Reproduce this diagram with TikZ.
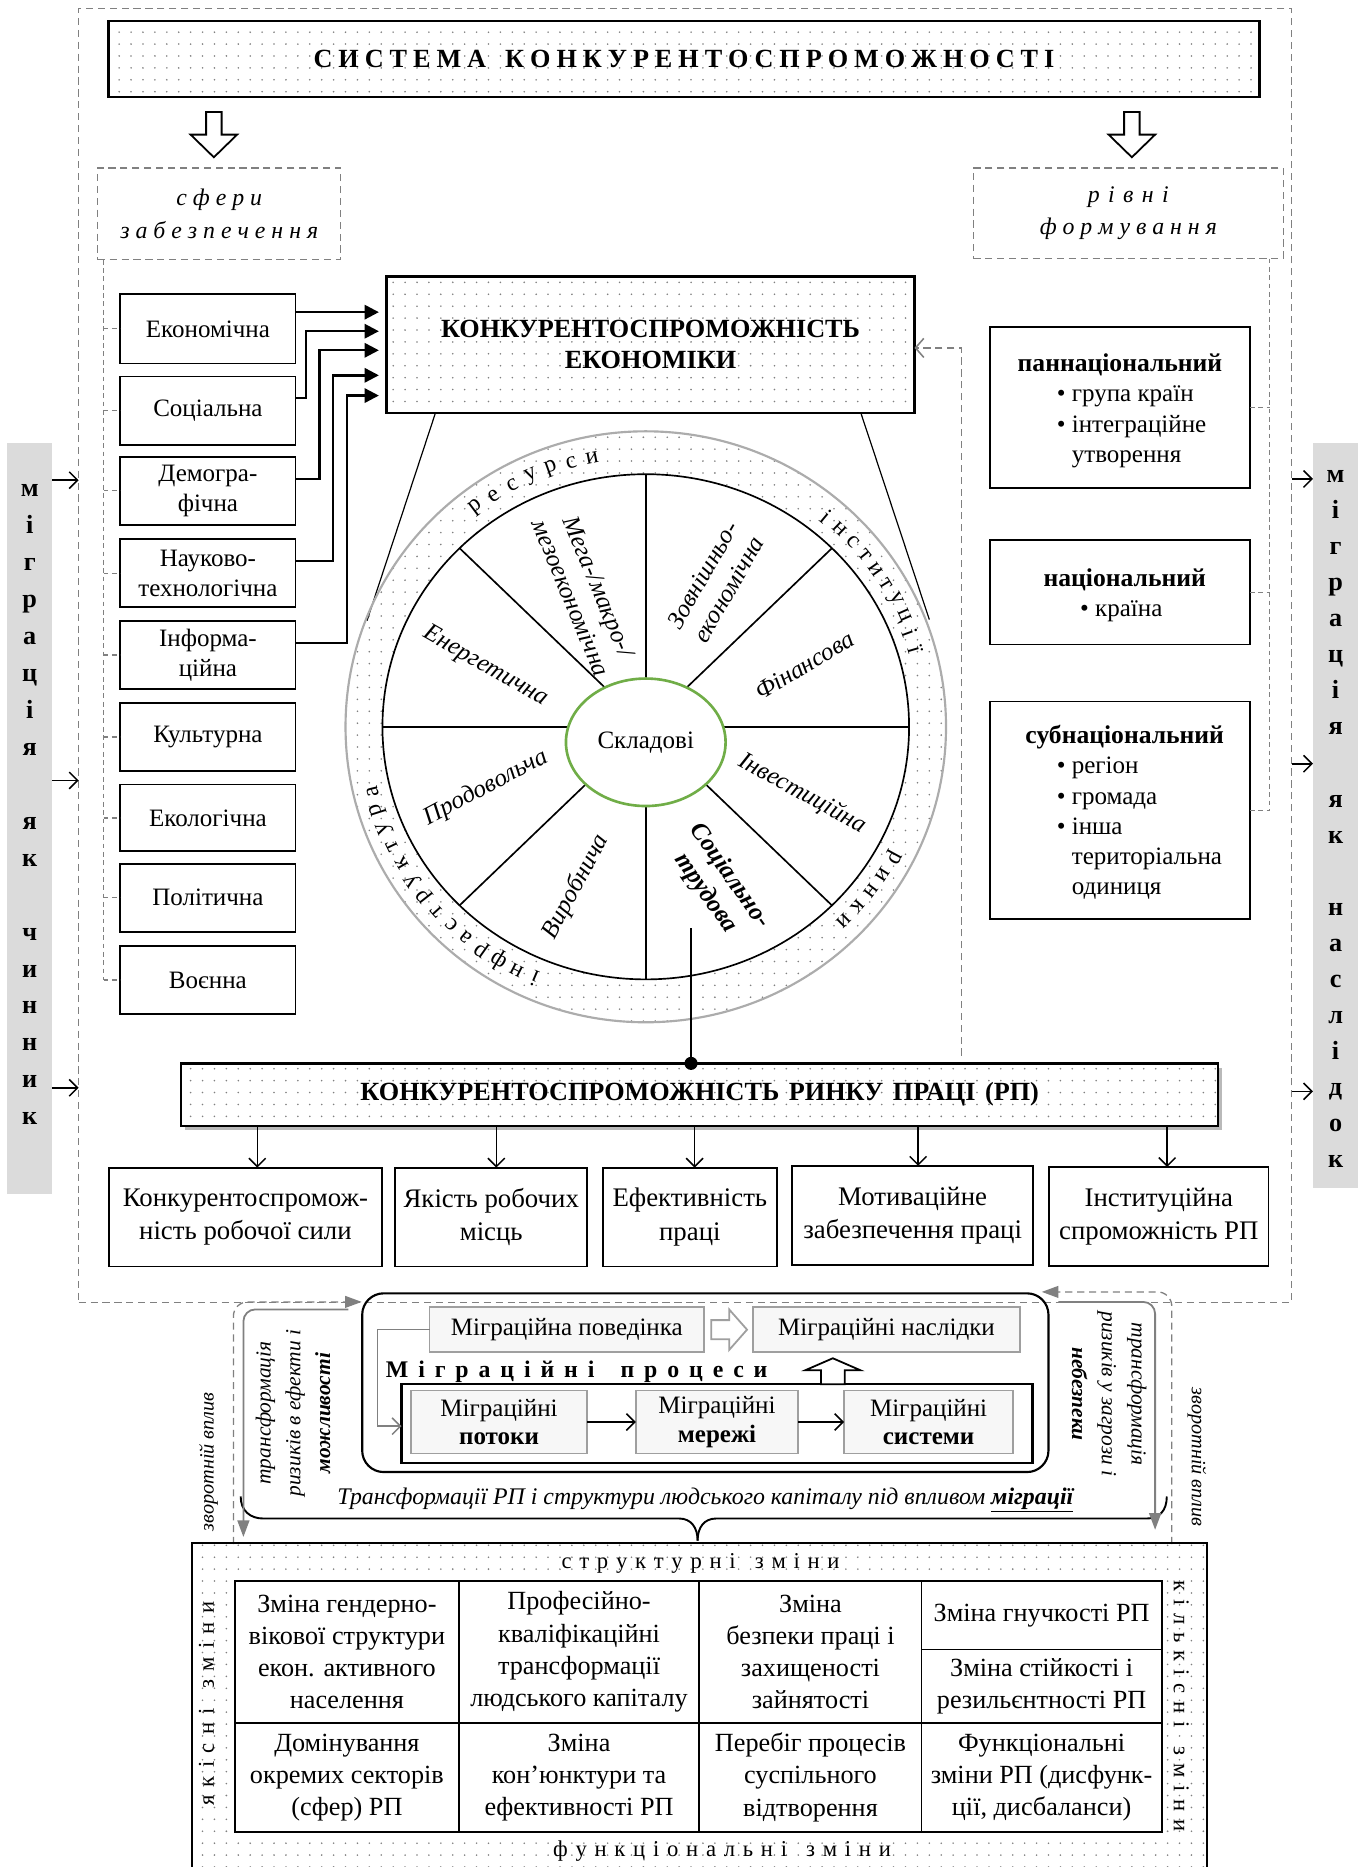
\documentclass[tikz,border=0pt]{standalone}
\usepackage{fontspec}
\setmainfont{Liberation Serif}
\usetikzlibrary{arrows.meta,patterns.meta,calc,shapes.geometric}
\definecolor{grn}{RGB}{112,173,71}
\definecolor{dgray}{RGB}{128,128,128}
\begin{document}
\begin{tikzpicture}[x=1pt,y=-1pt,
  every node/.style={inner sep=0pt,outer sep=0pt},
  ft/.style={font=\fontsize{21}{26}\selectfont},
  box/.style={draw,line width=1.5pt,fill=white,align=center,ft},
  cell/.style={box,font=\fontsize{22}{27}\selectfont},
  lbox/.style={box,font=\fontsize{22.5}{28}\selectfont},
  dotarea/.style={pattern={Dots[distance=10pt,radius=0.75pt]},pattern color=black!50},
  gdash/.style={draw=dgray,dash pattern=on 6pt off 4pt,line width=1.1pt},
  gdashs/.style={draw=dgray,dash pattern=on 4pt off 3pt,line width=1pt},
  fat/.style={line width=2pt,-{Triangle[length=12pt,width=12pt]}},
  barb/.style={line width=1.3pt,-{Straight Barb[length=7pt,width=14pt,line width=1.3pt]}},
  gbarb/.style={draw=dgray,line width=1.3pt,-{Straight Barb[length=7pt,width=14pt,line width=1.3pt]}},
  gtri/.style={draw=dgray,line width=1.5pt,-{Triangle[length=14pt,width=10pt]}},
  vbar/.style={fill=gray!28,minimum width=38pt},
  vletter/.style={font=\fontsize{22}{22}\selectfont\bfseries,anchor=base},
  ringtxt/.style={font=\fontsize{20}{20}\selectfont},
  sect/.style={font=\fontsize{21}{25}\selectfont\itshape,align=center},
  mbox/.style={draw=gray!75,line width=1.5pt,fill=gray!6,align=center,font=\fontsize{21}{25}\selectfont},
]
\useasboundingbox (0,0) rectangle (1150,1567);
\fill[white] (0,0) rectangle (1150,1567);

% outer dashed frame
\node[gdash,minimum width=1018pt,minimum height=1086pt] (outer) at (575,550) {};

% title
\node[draw,line width=2pt,dotarea,minimum width=966pt,minimum height=64pt,font=\fontsize{22}{26}\selectfont\bfseries] (title) at (574,49.5)
  {\spaceskip=5pt С И С Т Е М А\hspace{16pt}К О Н К У Р Е Н Т О С П Р О М О Ж Н О С Т І};

% hollow down arrows
\draw[line width=1.5pt,fill=white] (173,94) -- (186,94) -- (186,113) -- (199,113) -- (179.5,132) -- (160,113) -- (173,113) -- cycle;
\draw[line width=1.5pt,fill=white] (943.5,94) -- (956.5,94) -- (956.5,113) -- (969.5,113) -- (950,132) -- (930.5,113) -- (943.5,113) -- cycle;

% dashed headers
\node[gdash,minimum width=204pt,minimum height=77pt,align=center,font=\fontsize{20}{27}\selectfont\itshape] (sfery) at (184,179.5)
  {\spaceskip=5pt с ф е р и\\з а б е з п е ч е н н я};
\node[gdash,minimum width=260pt,minimum height=76pt,align=center,font=\fontsize{20}{27}\selectfont\itshape] (rivni) at (947,179)
  {\spaceskip=7pt р і в н і\\ф о р м у в а н н я};

% left boxes
\node[box,minimum width=147pt,minimum height=58pt] (eco) at (174.5,276) {Економічна};
\node[box,minimum width=147pt,minimum height=57.5pt] (soc) at (174.5,344.75) {Соціальна};
\node[box,minimum width=147pt,minimum height=57pt,font=\fontsize{21}{25}\selectfont] (dem) at (174.5,412) {Демогра-\\фічна};
\node[box,minimum width=147pt,minimum height=57pt,font=\fontsize{21}{25}\selectfont] (nau) at (174.5,481) {Науково-\\технологічна};
\node[box,minimum width=147pt,minimum height=57.5pt,font=\fontsize{21}{25}\selectfont] (inf) at (174.5,549.75) {Інформа-\\ційна};
\node[box,minimum width=147pt,minimum height=57pt] (kul) at (174.5,618.5) {Культурна};
\node[box,minimum width=147pt,minimum height=56pt] (ekol) at (174.5,686.5) {Екологічна};
\node[box,minimum width=147pt,minimum height=57pt] (pol) at (174.5,753.5) {Політична};
\node[box,minimum width=147pt,minimum height=57pt] (voen) at (174.5,822.5) {Воєнна};

\coordinate (lbt) at (87,218);
\coordinate (lbb) at (87,822.5);
\draw[gdashs] (lbt) -- (lbb);
\foreach \n in {eco,soc,dem,nau,inf,kul,ekol,pol,voen} \draw[gdashs] (\n.west -| lbt) -- (\n.west);

% KE box
\node[draw,line width=2pt,dotarea,minimum width=443pt,minimum height=114.5pt,align=center,font=\fontsize{22}{26}\selectfont\bfseries] (ke) at (546,289.25)
  {КОНКУРЕНТОСПРОМОЖНІСТЬ\\ЕКОНОМІКИ};

\coordinate (t1) at (318,262);
\coordinate (t2) at (318,278);
\coordinate (t3) at (318,294);
\coordinate (t4) at (318,315);
\coordinate (t5) at (318,332);
\draw[fat] (eco.east |- t1) -- (t1);
\draw[fat] ([yshift=10.75pt]soc.east) -| (256.7,278) -- (t2);
\draw[fat] ([yshift=10pt]dem.east) -| (268,294) -- (t3);
\draw[fat] ([yshift=10pt]nau.east) -| (279.5,315) -- (t4);
\draw[fat] ([yshift=10.25pt]inf.east) -| (291,332) -- (t5);

% right boxes
\node[box,minimum width=218pt,minimum height=135pt] (pan) at (940,342) {};
\node[box,minimum width=218pt,minimum height=88pt] (nat) at (940,497) {};
\node[box,minimum width=218pt,minimum height=182.5pt] (sub) at (940,680) {};
\node[font=\fontsize{21.5}{26}\selectfont\bfseries,anchor=base] (pan0) at (940,311.7) {паннаціональний};
\node[ft,anchor=base west] (pan1) at (887,337.2) {\textbullet\ група країн};
\node[ft,anchor=base west] (pan2) at (887,362.6) {\textbullet\ інтеграційне};
\node[ft,anchor=base west] (pan3) at (899.6,388.4) {утворення};
\node[font=\fontsize{21.5}{26}\selectfont\bfseries,anchor=base] (nat0) at (944,492.2) {національний};
\node[ft,anchor=base west] (nat1) at (906.6,517.6) {\textbullet\ країна};
\node[font=\fontsize{21.5}{26}\selectfont\bfseries,anchor=base] (sub0) at (944,623.9) {субнаціональний};
\node[ft,anchor=base west] (sub1) at (887,649) {\textbullet\ регіон};
\node[ft,anchor=base west] (sub2) at (887,675) {\textbullet\ громада};
\node[ft,anchor=base west] (sub3) at (887,700.5) {\textbullet\ інша};
\node[ft,anchor=base west] (sub4) at (899.6,725.5) {територіальна};
\node[ft,anchor=base west] (sub5) at (899.6,750.5) {одиниця};

\coordinate (rbt) at (1065.5,217);
\draw[gdashs] (rbt) -- (rbt |- sub.east);
\foreach \n in {pan,nat,sub} \draw[gdashs] (\n.east) -- (\n.east -| rbt);

% vertical side bars
\node[vbar,minimum height=630pt] (lbar) at (25,687) {};
\node[vbar,minimum height=625pt] (rbar) at (1121,684.5) {};
\foreach \c [count=\i from 0] in {м,і,г,р,а,ц,і,я,{},я,к,{},ч,и,н,н,и,к}
  \node[vletter] (ll\i) at (25,417+31*\i) {\c};
\foreach \c [count=\i from 0] in {м,і,г,р,а,ц,і,я,{},я,к,{},н,а,с,л,і,д,о,к}
  \node[vletter] (rl\i) at (1121,405+30.26*\i) {\c};
\coordinate (la1) at (0,403);
\coordinate (la2) at (0,655);
\coordinate (la3) at (0,913);
\coordinate (ra1) at (0,402);
\coordinate (ra2) at (0,641);
\coordinate (ra3) at (0,916);
\foreach \k in {1,2,3} {
  \draw[barb] (lbar.east |- la\k) -- (outer.west |- la\k);
  \draw[barb] (outer.east |- ra\k) -- (rbar.west |- ra\k);
}

% lines from KE to wheel
\coordinate (cl) at (308,521);
\coordinate (cr) at (780,520);
\draw[line width=1pt] ($(ke.south west)+(41,0)$) -- (cl);
\draw[line width=1pt] ($(ke.south east)+(-45,0)$) -- (cr);

% gray dashed feedback to KE
\coordinate (gdc) at (807,292);
\coordinate (gds) at (807,886);
\draw[gdash,-{Straight Barb[length=7pt,width=16pt,line width=1.3pt]}] (gds) |- (ke.east |- gdc);

% wheel
\begin{scope}[shift={(542,610)},y=1pt]
  \draw[draw=gray!65,line width=1.8pt,dotarea] (0,0) ellipse [x radius=252,y radius=248];
  \draw[line width=1.4pt,fill=white] (0,0) ellipse [x radius=221,y radius=212];
  \foreach \a in {0,45,...,315} \draw[line width=1.4pt] (0,0) -- (\a:221 and 212);
  \node[ellipse,draw=grn,line width=2.2pt,fill=white,minimum width=134pt,minimum height=107pt,ft] (sklad) at (0,-13) {Складові};
  \foreach \c [count=\i from 0] in {р,е,с,у,р,с,и} {
    \pgfmathsetmacro\ang{127-4.33*\i}
    \pgfmathsetmacro\rot{\ang-90}
    \node[ringtxt,rotate=\rot] (rgA\i) at (\ang:236 and 230) {\c};
  }
  \foreach \c [count=\i from 0] in {і,н,с,т,и,т,у,ц,і,ї} {
    \pgfmathsetmacro\ang{50-3.733*\i}
    \pgfmathsetmacro\rot{\ang-90}
    \node[ringtxt,rotate=\rot] (rgB\i) at (\ang:236 and 230) {\c};
  }
  \foreach \c [count=\i from 0] in {р,и,н,к,и} {
    \pgfmathsetmacro\ang{-28.5-4.175*\i}
    \pgfmathsetmacro\rot{\ang-90}
    \node[ringtxt,rotate=\rot] (rgC\i) at (\ang:236 and 230) {\c};
  }
  \foreach \c [count=\i from 0] in {і,н,ф,р,а,с,т,р,у,к,т,у,р,а} {
    \pgfmathsetmacro\ang{246.7-4.085*\i}
    \pgfmathsetmacro\rot{\ang-90}
    \node[ringtxt,rotate=\rot] (rgD\i) at (\ang:236 and 230) {\c};
  }
\end{scope}

% sector labels
\node[sect,rotate=-67.5] (s1) at (491,497) {Мега-/макро-/\\мезоекономічна};
\node[sect,rotate=60] (s2) at (600.6,488.5) {Зовнішньо-\\економічна};
\node[sect,rotate=31] (s3) at (675.2,558.4) {Фінансова};
\node[sect,rotate=-28.6] (s4) at (673.6,666.2) {Інвестиційна};
\node[sect,rotate=-55,font=\fontsize{21}{25}\selectfont\bfseries\itshape] (s5) at (602.3,742.5) {Соціально-\\трудова};
\node[sect,rotate=62] (s6) at (483.5,744.2) {Виробнича};
\node[sect,rotate=28] (s7) at (408.1,661.2) {Продовольча};
\node[sect,rotate=-29.7] (s8) at (407.5,559.4) {Енергетична};

% labour market box
\fill[gray!55] (155,896) rectangle (1025.5,948);
\node[draw,line width=2pt,fill=white,minimum width=870.5pt,minimum height=52.5pt] (rpbg) at (587.25,918.75) {};
\node[draw,line width=2pt,dotarea,minimum width=870.5pt,minimum height=52.5pt,font=\fontsize{22}{26}\selectfont\bfseries] (rp) at (587.25,918.75)
  {КОНКУРЕНТОСПРОМОЖНІСТЬ\hspace{8pt}РИНКУ\hspace{8pt}ПРАЦІ\hspace{8pt}(РП)};
\coordinate (st) at (580,779);
\node[circle,fill,minimum size=11pt] (dot) at (st |- rp.north) {};
\draw[line width=1.6pt] (st) -- (dot.center);

% five boxes
\node[lbox,minimum width=229.3pt,minimum height=83pt] (b1) at (206,1021.5) {Конкурентоспромож-\\ність робочої сили};
\node[lbox,minimum width=161.4pt,minimum height=83pt] (b2) at (412.3,1021.5) {Якість робочих\\місць};
\node[lbox,minimum width=146pt,minimum height=83pt] (b3) at (579,1021.5) {Ефективність\\праці};
\node[lbox,minimum width=202pt,minimum height=83.5pt] (b4) at (766,1020.25) {Мотиваційне\\забезпечення праці};
\node[lbox,minimum width=184pt,minimum height=83pt] (b5) at (972.6,1021) {Інституційна\\спроможність РП};
\foreach \n/\dx in {b1/10,b2/4.3,b3/4,b4/4.6,b5/7}
  \draw[barb] ($(\n.north |- rp.south)+(\dx,0)$) -- ($(\n.north)+(\dx,0)$);

% migration block
\node[draw,line width=1.8pt,rounded corners=18pt,minimum width=576pt,minimum height=150pt] (mig) at (592,1160.5) {};
\node[mbox,minimum width=230.5pt,minimum height=37.6pt] (mpov) at (475.75,1115.8) {Міграційна поведінка};
\node[mbox,minimum width=224pt,minimum height=37.6pt] (mnas) at (744,1115.8) {Міграційні наслідки};
\node[draw,line width=2pt,minimum width=529.7pt,minimum height=66pt] (mproc) at (601.85,1194.8) {};
\node[mbox,minimum width=147.7pt,minimum height=53pt,font=\fontsize{21}{24}\selectfont] (mp1) at (418.85,1193.5) {Міграційні\\\textbf{потоки}};
\node[mbox,minimum width=136.4pt,minimum height=53pt,font=\fontsize{21}{24}\selectfont] (mp2) at (601.8,1193.5) {Міграційні\\\textbf{мережі}};
\node[mbox,minimum width=141.8pt,minimum height=53pt,font=\fontsize{21}{24}\selectfont] (mp3) at (779.4,1193.5) {Міграційні\\\textbf{системи}};
\node[font=\fontsize{20}{24}\selectfont\bfseries] (mtit) at (484,1151) {\spaceskip=8.3pt М і г р а ц і й н і\hspace{22pt}п р о ц е с и};
\draw[draw=gray!75,line width=1.5pt,fill=white] (597,1108) -- (612,1108) -- (612,1099) -- (627,1116) -- (612,1133) -- (612,1124) -- (597,1124) -- cycle;
\draw[line width=1.5pt,fill=white] (689,1161.8) -- (689,1150) -- (676,1150) -- (699,1140) -- (722,1150) -- (709,1150) -- (709,1161.8) -- cycle;
\coordinate (lp) at (317,1197);
\draw[gbarb] (mpov.west) -| (lp) -- (mproc.west |- lp);
\draw[barb] (mp1.east) -- (mp2.west);
\draw[barb] (mp2.east) -- (mp3.west);

% brace
\draw[line width=1.6pt] (202,1256) .. controls (202,1268) and (210,1274.5) .. (221,1274.5) -- (570,1274.5) .. controls (580,1274.5) and (585.5,1282) .. (585.5,1293);
\draw[line width=1.6pt] (585.5,1293) .. controls (585.5,1282) and (591,1274.5) .. (601,1274.5) -- (962.5,1274.5) .. controls (973,1274.5) and (979.3,1268) .. (979.3,1256);
\node[font=\fontsize{20}{24}\selectfont\itshape] (mcap) at (592,1259) {Трансформації РП і структури людського капіталу під впливом \textbf{\underline{міграції}}};

% gray arrows
\coordinate (gl0) at (292.4,1099);
\coordinate (gl1) at (204.3,1290);
\draw[gtri,rounded corners=10pt] (gl0) -| (gl1);
\coordinate (gr0) at (888.4,1092.7);
\coordinate (gr1) at (969.5,1284);
\draw[gtri,rounded corners=10pt] (gr0) -| (gr1);
\coordinate (fl0) at (195.9,1296);
\coordinate (fl1) at (303.6,1092.7);
\draw[gdash,-{Triangle[length=14pt,width=10pt]},rounded corners=12pt] (fl0) |- (fl1);
\coordinate (fr0) at (983.5,1296);
\coordinate (fr1) at (874.4,1084.3);
\draw[gdash,-{Triangle[length=14pt,width=10pt]},rounded corners=12pt] (fr0) |- (fr1);

\node[font=\fontsize{18}{25}\selectfont\itshape,align=center,rotate=90] (ltr) at (246,1186) {трансформація\\ризиків в ефекти і\\\textbf{можливості}};
\node[font=\fontsize{18}{25}\selectfont\itshape,align=center,rotate=-90] (rtr) at (931,1170) {трансформація\\ризиків у загрози і\\\textbf{небезпеки}};
\node[font=\fontsize{17}{20}\selectfont\itshape,rotate=90] (zl) at (175,1227) {зворотній вплив};
\node[font=\fontsize{17}{20}\selectfont\itshape,rotate=-90] (zr) at (1004.5,1223) {зворотній вплив};

% bottom table
\node[draw,line width=1.6pt,dotarea,minimum width=852pt,minimum height=290pt] (tbl) at (587,1440) {};
\node[font=\fontsize{19}{22}\selectfont] (str) at (588,1312) {\spaceskip=6.5pt с т р у к т у р н і\hspace{16pt}з м і н и};
\node[font=\fontsize{19}{22}\selectfont] (fun) at (606,1554) {\spaceskip=6.5pt ф у н к ц і о н а л ь н і\hspace{16pt}з м і н и};
\node[font=\fontsize{19}{22}\selectfont,rotate=90] (yak) at (173.4,1430) {\spaceskip=7pt я к і с н і\hspace{16pt}з м і н и};
\node[font=\fontsize{19}{22}\selectfont,rotate=-90] (kil) at (991.5,1432) {\spaceskip=6.5pt к і л ь к і с н і\hspace{16pt}з м і н и};

\node[cell,minimum width=187.7pt,minimum height=119.2pt] (c11) at (291.15,1386.4) {Зміна гендерно-\\вікової структури\\екон. активного\\населення};
\node[cell,minimum width=202pt,minimum height=119.2pt] (c12) at (486,1386.4) {Професійно-\\кваліфікаційні\\трансформації\\людського капіталу};
\node[cell,minimum width=186.5pt,minimum height=119.2pt] (c13) at (680.25,1386.4) {Зміна\\безпеки праці і\\захищеності\\зайнятості};
\node[cell,minimum width=201.5pt,minimum height=57.7pt] (c14a) at (874.25,1355.65) {Зміна гнучкості РП};
\node[cell,minimum width=201.5pt,minimum height=61.5pt] (c14b) at (874.25,1415.25) {Зміна стійкості і\\резильєнтності РП};
\node[cell,minimum width=187.7pt,minimum height=91.5pt] (c21) at (291.15,1491.75) {Домінування\\окремих секторів\\(сфер) РП};
\node[cell,minimum width=202pt,minimum height=91.5pt] (c22) at (486,1491.75) {Зміна\\кон’юнктури та\\ефективності РП};
\node[cell,minimum width=186.5pt,minimum height=91.5pt] (c23) at (680.25,1491.75) {Перебіг процесів\\суспільного\\відтворення};
\node[cell,minimum width=201.5pt,minimum height=91.5pt] (c24) at (874.25,1491.75) {Функціональні\\зміни РП (дисфунк-\\ції, дисбаланси)};
\end{tikzpicture}
\end{document}
